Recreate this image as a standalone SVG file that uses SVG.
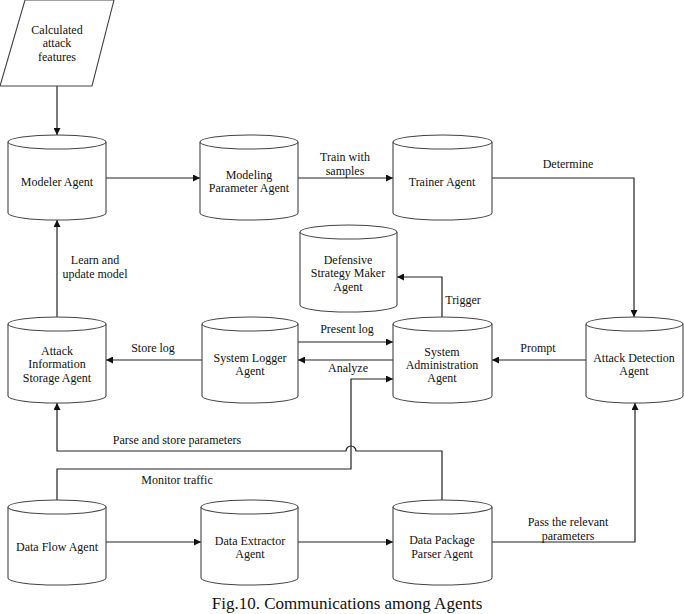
<svg xmlns="http://www.w3.org/2000/svg" width="684" height="614" viewBox="0 0 684 614">
<style>
.n{fill:#fff;stroke:#444;stroke-width:1.1}
.t{font-family:"Liberation Serif","Times New Roman",serif;font-size:12px;fill:#111;text-anchor:middle}
.c{fill:none;stroke:#222;stroke-width:1.2}
.cap{font-family:"Liberation Serif","Times New Roman",serif;font-size:17px;fill:#111;text-anchor:middle}
</style>
<defs>
<marker id="a" viewBox="0 0 10 10" refX="10" refY="5" markerWidth="8" markerHeight="7" markerUnits="userSpaceOnUse" orient="auto">
<path d="M0,0 L10,5 L0,10 z" fill="#111"/>
</marker>
</defs>
<rect width="684" height="614" fill="#fff"/>

<g id="connectors" class="c">
<path d="M57,86 V135" marker-end="url(#a)"/>
<path d="M106,178 H200" marker-end="url(#a)"/>
<path d="M298,178 H393" marker-end="url(#a)"/>
<path d="M492,178 H634 V317" marker-end="url(#a)"/>
<path d="M442,317 V277 H397" marker-end="url(#a)"/>
<path d="M586,360 H492" marker-end="url(#a)"/>
<path d="M298,342 H393" marker-end="url(#a)"/>
<path d="M393,360 H298" marker-end="url(#a)"/>
<path d="M202,360 H106" marker-end="url(#a)"/>
<path d="M57,317 V220" marker-end="url(#a)"/>
<path d="M57,500 V469 H351 V379 H393" marker-end="url(#a)"/>
<path d="M442,500 V451 H356 A5,5 0 0 0 346,451 H57 V403" marker-end="url(#a)"/>
<path d="M106,542 H201" marker-end="url(#a)"/>
<path d="M298,542 H393" marker-end="url(#a)"/>
<path d="M492,542 H635 V403" marker-end="url(#a)"/>
</g>

<g id="labels" class="t">
<text x="345" y="161">Train with</text>
<text x="345" y="175">samples</text>
<text x="568" y="168">Determine</text>
<text x="463" y="304">Trigger</text>
<text x="538" y="352">Prompt</text>
<text x="347" y="333">Present log</text>
<text x="348" y="372">Analyze</text>
<text x="153" y="352">Store log</text>
<text x="95" y="264">Learn and</text>
<text x="95" y="278">update model</text>
<text x="177" y="444">Parse and store parameters</text>
<text x="177" y="484">Monitor traffic</text>
<text x="568" y="526">Pass the relevant</text>
<text x="568" y="540">parameters</text>
</g>

<g id="features">
<path class="n" d="M25,0 H114 L92,86 H0 Z"/>
<text class="t" x="57" y="34">Calculated</text>
<text class="t" x="57" y="47">attack</text>
<text class="t" x="57" y="61">features</text>
</g>

<g id="modeler">
<path class="n" d="M8,142 A49,7 0 0 1 106,142 V213 A49,7 0 0 1 8,213 Z"/>
<path class="n" d="M8,142 A49,7 0 0 0 106,142"/>
<text class="t" x="57" y="186">Modeler Agent</text>
</g>

<g id="modeling-parameter">
<path class="n" d="M200,142 A49,7 0 0 1 298,142 V213 A49,7 0 0 1 200,213 Z"/>
<path class="n" d="M200,142 A49,7 0 0 0 298,142"/>
<text class="t" x="249" y="179">Modeling</text>
<text class="t" x="249" y="192">Parameter Agent</text>
</g>

<g id="trainer">
<path class="n" d="M393,142 A49.5,7 0 0 1 492,142 V213 A49.5,7 0 0 1 393,213 Z"/>
<path class="n" d="M393,142 A49.5,7 0 0 0 492,142"/>
<text class="t" x="442" y="186">Trainer Agent</text>
</g>

<g id="defensive">
<path class="n" d="M300,232 A48.5,7 0 0 1 397,232 V305 A48.5,7 0 0 1 300,305 Z"/>
<path class="n" d="M300,232 A48.5,7 0 0 0 397,232"/>
<text class="t" x="348" y="264">Defensive</text>
<text class="t" x="348" y="277">Strategy Maker</text>
<text class="t" x="348" y="291">Agent</text>
</g>

<g id="attack-info-storage">
<path class="n" d="M8,324 A49,7 0 0 1 106,324 V396 A49,7 0 0 1 8,396 Z"/>
<path class="n" d="M8,324 A49,7 0 0 0 106,324"/>
<text class="t" x="57" y="355">Attack</text>
<text class="t" x="57" y="368">Information</text>
<text class="t" x="57" y="382">Storage Agent</text>
</g>

<g id="system-logger">
<path class="n" d="M202,324 A48,7 0 0 1 298,324 V396 A48,7 0 0 1 202,396 Z"/>
<path class="n" d="M202,324 A48,7 0 0 0 298,324"/>
<text class="t" x="250" y="362">System Logger</text>
<text class="t" x="250" y="375">Agent</text>
</g>

<g id="system-admin">
<path class="n" d="M393,324 A49.5,7 0 0 1 492,324 V396 A49.5,7 0 0 1 393,396 Z"/>
<path class="n" d="M393,324 A49.5,7 0 0 0 492,324"/>
<text class="t" x="442" y="356">System</text>
<text class="t" x="442" y="369">Administration</text>
<text class="t" x="442" y="382">Agent</text>
</g>

<g id="attack-detection">
<path class="n" d="M586,324 A48.5,7 0 0 1 683,324 V396 A48.5,7 0 0 1 586,396 Z"/>
<path class="n" d="M586,324 A48.5,7 0 0 0 683,324"/>
<text class="t" x="634" y="362">Attack Detection</text>
<text class="t" x="634" y="375">Agent</text>
</g>

<g id="data-flow">
<path class="n" d="M8,507 A49,7 0 0 1 106,507 V578 A49,7 0 0 1 8,578 Z"/>
<path class="n" d="M8,507 A49,7 0 0 0 106,507"/>
<text class="t" x="57" y="551">Data Flow Agent</text>
</g>

<g id="data-extractor">
<path class="n" d="M201,507 A48.5,7 0 0 1 298,507 V578 A48.5,7 0 0 1 201,578 Z"/>
<path class="n" d="M201,507 A48.5,7 0 0 0 298,507"/>
<text class="t" x="250" y="545">Data Extractor</text>
<text class="t" x="250" y="558">Agent</text>
</g>

<g id="data-package-parser">
<path class="n" d="M393,507 A49.5,7 0 0 1 492,507 V578 A49.5,7 0 0 1 393,578 Z"/>
<path class="n" d="M393,507 A49.5,7 0 0 0 492,507"/>
<text class="t" x="442" y="544">Data Package</text>
<text class="t" x="442" y="558">Parser Agent</text>
</g>

<text class="cap" x="347" y="609">Fig.10. Communications among Agents</text>
</svg>
